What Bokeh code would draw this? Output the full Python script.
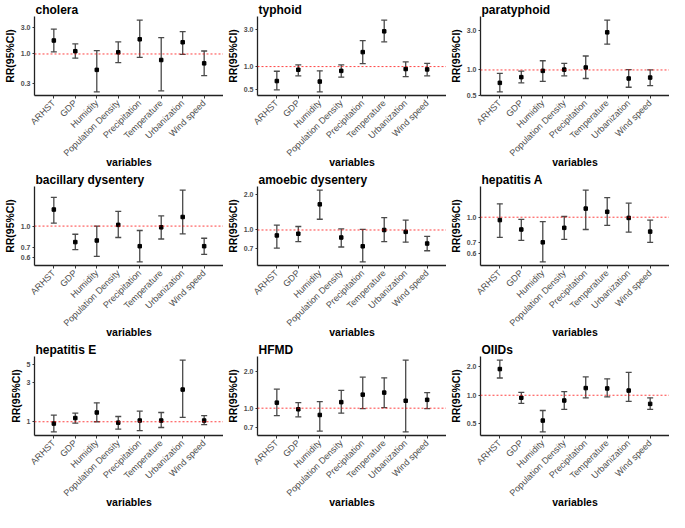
import numpy as np
from bokeh.plotting import figure
from bokeh.layouts import gridplot
from bokeh.models import FixedTicker, Span, ColumnDataSource, Whisker, TeeHead, PrintfTickFormatter
from bokeh.embed import file_html
from bokeh.resources import INLINE

variables = ["ARHST", "GDP", "Humidity", "Population Density",
             "Precipitation", "Temperature", "Urbanization", "Wind speed"]

cholera_rr = [1.74, 1.12, 0.52, 1.07, 1.83, 0.78, 1.62, 0.68]
cholera_lo = [1.09, 0.84, 0.21, 0.70, 0.87, 0.22, 0.98, 0.41]
cholera_hi = [2.79, 1.51, 1.15, 1.64, 4.03, 1.96, 2.51, 1.13]

typhoid_rr = [0.65, 0.91, 0.64, 0.88, 1.54, 2.86, 0.93, 0.92]
typhoid_lo = [0.50, 0.76, 0.47, 0.73, 1.09, 2.09, 0.74, 0.76]
typhoid_hi = [0.87, 1.05, 0.88, 1.05, 2.17, 4.00, 1.15, 1.10]

paratyphoid_rr = [0.70, 0.82, 0.975, 1.01, 1.07, 2.83, 0.79, 0.81]
paratyphoid_lo = [0.545, 0.70, 0.73, 0.85, 0.79, 2.04, 0.62, 0.65]
paratyphoid_hi = [0.91, 0.97, 1.29, 1.20, 1.47, 3.97, 1.01, 1.00]

bacillary_rr = [1.31, 0.77, 0.79, 1.02, 0.72, 0.98, 1.16, 0.72]
bacillary_lo = [1.05, 0.68, 0.61, 0.83, 0.557, 0.81, 0.88, 0.63]
bacillary_hi = [1.60, 0.875, 1.00, 1.27, 0.93, 1.18, 1.80, 0.82]

amoebic_rr = [0.90, 0.93, 1.64, 0.865, 0.73, 1.00, 0.965, 0.77]
amoebic_lo = [0.705, 0.80, 1.23, 0.72, 0.54, 0.80, 0.79, 0.67]
amoebic_hi = [1.10, 1.07, 2.16, 1.02, 1.01, 1.27, 1.21, 0.885]

hepA_rr = [0.96, 0.84, 0.70, 0.86, 1.13, 1.08, 0.99, 0.815]
hepA_lo = [0.75, 0.72, 0.53, 0.73, 0.84, 0.89, 0.81, 0.70]
hepA_hi = [1.21, 0.97, 0.94, 1.01, 1.47, 1.32, 1.22, 0.96]

hepE_rr = [0.95, 1.11, 1.30, 0.975, 1.035, 1.035, 2.49, 1.035]
hepE_lo = [0.75, 0.96, 1.00, 0.81, 0.78, 0.85, 1.13, 0.92]
hepE_hi = [1.21, 1.28, 1.71, 1.16, 1.35, 1.30, 5.74, 1.19]

hfmd_rr = [1.11, 0.98, 0.88, 1.12, 1.29, 1.34, 1.15, 1.17]
hfmd_lo = [0.87, 0.85, 0.65, 0.91, 0.99, 1.01, 0.64, 0.99]
hfmd_hi = [1.43, 1.11, 1.13, 1.40, 1.79, 1.77, 2.47, 1.34]

oiids_rr = [1.89, 0.94, 0.54, 0.88, 1.19, 1.18, 1.12, 0.81]
oiids_lo = [1.52, 0.82, 0.41, 0.71, 0.94, 0.96, 0.86, 0.71]
oiids_hi = [2.35, 1.07, 0.69, 1.09, 1.56, 1.49, 1.74, 0.94]

panels = [
    ("cholera", cholera_rr, cholera_lo, cholera_hi, [0.3, 1.0, 3.0], "%.1f"),
    ("typhoid", typhoid_rr, typhoid_lo, typhoid_hi, [0.5, 1.0, 3.0], "%.1f"),
    ("paratyphoid", paratyphoid_rr, paratyphoid_lo, paratyphoid_hi, [0.5, 1.0, 3.0], "%.1f"),
    ("bacillary dysentery", bacillary_rr, bacillary_lo, bacillary_hi, [0.6, 0.7, 1.0], "%.1f"),
    ("amoebic dysentery", amoebic_rr, amoebic_lo, amoebic_hi, [0.7, 1.0, 2.0], "%.1f"),
    ("hepatitis A", hepA_rr, hepA_lo, hepA_hi, [0.6, 0.7, 1.0], "%.1f"),
    ("hepatitis E", hepE_rr, hepE_lo, hepE_hi, [1, 3, 5], "%d"),
    ("HFMD", hfmd_rr, hfmd_lo, hfmd_hi, [0.7, 1.0, 2.0], "%.1f"),
    ("OIIDs", oiids_rr, oiids_lo, oiids_hi, [0.5, 1.0, 2.0], "%.1f"),
]

FONT = "Liberation Sans"
BAR = "#4a4a4a"

figs = []
for title, rr, lo, hi, ticks, fmt in panels:
    x = list(range(1, len(variables) + 1))
    lmin = np.log10(min(lo))
    lmax = np.log10(max(hi))
    pad = 0.05 * (lmax - lmin)
    p = figure(width=223, height=170, y_axis_type="log",
               x_range=(0.1, 8.9), y_range=(10 ** (lmin - pad), 10 ** (lmax + pad)),
               output_backend="svg", toolbar_location=None, title=title,
               min_border_left=0, min_border_right=0, min_border_top=0, min_border_bottom=0)
    p.title.text_font = FONT
    p.title.text_font_size = "12px"
    p.title.text_font_style = "bold"
    p.title.text_color = "black"
    p.title.offset = 1
    p.title.standoff = 0
    p.outline_line_color = None
    p.xgrid.visible = False
    p.ygrid.visible = False
    p.background_fill_color = "white"

    src = ColumnDataSource(dict(x=x, rr=rr, lo=lo, hi=hi))
    p.add_layout(Span(location=1.0, dimension="width", line_color="red",
                      line_dash="2 2", line_width=1, line_alpha=0.75))
    w = Whisker(base="x", upper="hi", lower="lo", source=src,
                line_color=BAR, line_width=1.3,
                upper_head=TeeHead(size=6, line_color=BAR, line_width=1.3),
                lower_head=TeeHead(size=6, line_color=BAR, line_width=1.3))
    p.add_layout(w)
    p.scatter("x", "rr", source=src, marker="square", size=3.5, color="black")

    p.xaxis.ticker = FixedTicker(ticks=x)
    p.xaxis.major_label_overrides = {i: v for i, v in zip(x, variables)}
    p.xaxis.major_label_orientation = np.pi / 4
    p.xaxis.axis_label = "variables"
    p.yaxis.axis_label = "RR(95%CI)"
    p.yaxis.ticker = FixedTicker(ticks=ticks, minor_ticks=[])
    p.yaxis.formatter = PrintfTickFormatter(format=fmt)

    for ax in (p.xaxis[0], p.yaxis[0]):
        ax.axis_line_color = "#222222"
        ax.axis_line_width = 1.3
        ax.major_tick_line_color = "#333333"
        ax.major_tick_out = 3
        ax.major_tick_in = 0
        ax.minor_tick_line_color = None
        ax.major_label_text_font = FONT
        ax.major_label_text_font_size = "9px"
        ax.major_label_text_color = "#4d4d4d"
        ax.axis_label_text_font = FONT
        ax.axis_label_text_font_size = "10.5px"
        ax.axis_label_text_font_style = "bold"
        ax.axis_label_text_color = "black"
        ax.major_label_standoff = 3
        ax.axis_label_standoff = 4
    p.xaxis.axis_label_standoff = -9
    p.yaxis.major_tick_out = 2
    p.yaxis.major_label_standoff = 2
    p.yaxis.axis_label_standoff = 2
    p.yaxis.major_label_text_font_style = "bold"
    p.yaxis.major_label_text_font_size = "7px"
    figs.append(p)

grid = gridplot([figs[0:3], figs[3:6], figs[6:9]], toolbar_location=None)

open("out.html", "w").write(file_html(grid, INLINE))
